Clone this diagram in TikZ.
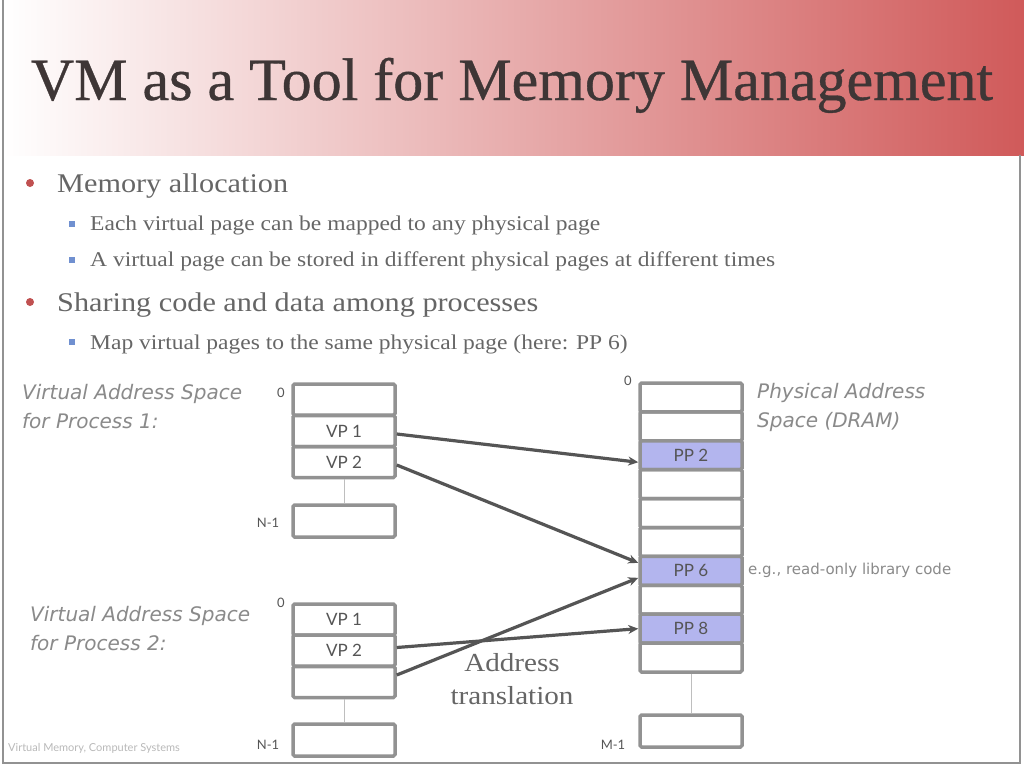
\documentclass[tikz,border=0pt]{standalone}
\usepackage{fontspec}
\setmainfont{Liberation Serif}
\newfontfamily\bodyfont[FakeStretch=1.12]{Liberation Serif}
\newfontfamily\titlefontfam[FakeBold=0.6]{Liberation Serif}
\newfontfamily\labfont{Lato}
\newfontfamily\itfont{DejaVu Sans}
\usetikzlibrary{arrows.meta,calc}
\definecolor{titlec}{HTML}{3E3636}
\definecolor{bodyc}{HTML}{666666}
\definecolor{labc}{HTML}{8A8A8A}
\definecolor{boxc}{HTML}{929292}
\definecolor{arrc}{HTML}{555555}
\definecolor{ppc}{HTML}{B3B5EE}
\definecolor{bannerR}{HTML}{D05A5A}
\definecolor{redbul}{HTML}{C05050}
\definecolor{bluebul}{HTML}{7090D0}
\begin{document}
\begin{tikzpicture}[x=1pt,y=-1pt,
  titlefont/.style={font=\titlefontfam\fontsize{60}{60}\selectfont, text=titlec},
  lvlone/.style={font=\bodyfont\fontsize{27}{27}\selectfont, text=bodyc, anchor=base west, inner sep=0},
  lvltwo/.style={font=\bodyfont\fontsize{21}{21}\selectfont, text=bodyc, anchor=base west, inner sep=0},
  italab/.style={font=\itfont\itshape\fontsize{20}{20}\selectfont, text=labc, anchor=base west, inner sep=0},
  small/.style={font=\labfont\fontsize{13}{13}\selectfont, text=arrc, inner sep=0},
  row/.style={draw=boxc, line width=3.5pt, minimum width=102pt, minimum height=31pt, inner sep=0,
    rounded corners=1.5pt, font=\labfont\fontsize{17}{17}\selectfont, text=arrc},
  prow/.style={row, minimum height=28.9pt},
  pfill/.style={prow, fill=ppc},
  gap/.style={draw=boxc!60, line width=1pt},
  maparrow/.style={draw=arrc, line width=3.2pt, -{Stealth[length=10pt,width=9pt]}}
]
\useasboundingbox (0,0) rectangle (1024,768);
\fill[white] (0,0) rectangle (1024,768);
% banner
\shade[left color=white, right color=bannerR] (3,0) rectangle (1024,155);
\draw[boxc, line width=2pt] (3,0) -- (3,763) -- (1020,763) -- (1020,155);
\node[titlefont, anchor=base] (title) at (512,100) {VM as a Tool for Memory Management};

% bullets
\fill[redbul] (30,183) circle (4);
\node[lvlone] (b1) at (57,192) {Memory allocation};
\fill[bluebul] (69,221) rectangle (75,227);
\node[lvltwo] (b11) at (90,230) {Each virtual page can be mapped to any physical page};
\fill[bluebul] (69,257) rectangle (75,263);
\node[lvltwo] (b12) at (90,266) {A virtual page can be stored in different physical pages at different times};
\fill[redbul] (30,302) circle (4);
\node[lvlone] (b2) at (57,311) {Sharing code and data among processes};
\fill[bluebul] (69,339) rectangle (75,345);
\node[lvltwo] (b21) at (90,349) {Map virtual pages to the same physical page (here: PP 6)};

% process 1
\node[italab] (l1a) at (22,399) {Virtual Address Space};
\node[italab] (l1b) at (22,428) {for Process 1:};
\node[row] (v1a) at (344,399.5) {};
\node[row] (v1b) at (344,431) {VP 1};
\node[row] (v1c) at (344,462) {VP 2};
\node[row, minimum height=32pt] (v1n) at (344,521) {};
\draw[gap] (v1c.south) -- (v1n.north);
\node[small] (z1) at (281,393) {0};
\node[small] (n1) at (268,523) {N-1};

% process 2
\node[italab] (l2a) at (30,621) {Virtual Address Space};
\node[italab] (l2b) at (30,650) {for Process 2:};
\node[row] (v2a) at (344,619.5) {VP 1};
\node[row] (v2b) at (344,650.5) {VP 2};
\node[row] (v2c) at (344,682) {};
\node[row, minimum height=32pt] (v2n) at (344,740) {};
\draw[gap] (v2c.south) -- (v2n.north);
\node[small] (z2) at (281,603) {0};
\node[small] (n2) at (268,745) {N-1};

% physical
\node[prow]  (p0) at (691,397.45) {};
\node[prow]  (p1) at (691,426.35) {};
\node[pfill] (pp2) at (691,455.25) {PP 2};
\node[prow]  (p3) at (691,484.15) {};
\node[prow]  (p4) at (691,513.05) {};
\node[prow]  (p5) at (691,541.95) {};
\node[pfill] (pp6) at (691,570.85) {PP 6};
\node[prow]  (p7) at (691,599.75) {};
\node[pfill] (pp8) at (691,628.65) {PP 8};
\node[prow]  (p9) at (691,657.55) {};
\node[row, minimum height=32pt] (pm) at (691,731) {};
\draw[gap] (p9.south) -- (pm.north);
\node[small] (z3) at (628,381) {0};
\node[small] (m3) at (613,745) {M-1};
\node[italab] (l3a) at (757,398) {Physical Address};
\node[italab] (l3b) at (757,427) {Space (DRAM)};
\node[font=\itfont\fontsize{15}{15}\selectfont, text=labc, anchor=west, inner sep=0] (eg) at (748,570) {e.g., read-only library code};

% mappings
\draw[maparrow] ($(v1b.east)+(0,3)$) -- ($(pp2.west)+(0,7)$);
\draw[maparrow] ($(v1c.east)+(0,3)$) -- ($(pp6.west)+(0,-8)$);
\draw[maparrow] ($(v2b.east)+(0,-3)$) -- (pp8.west);
\draw[maparrow] ($(v2c.east)+(0,-7)$) -- ($(pp6.west)+(0,7)$);

\node[font=\bodyfont\fontsize{26}{26}\selectfont, text=bodyc, align=center] (at) at (512,679) {Address\\[7pt]translation};

% footer
\node[font=\labfont\fontsize{11}{11}\selectfont, text=labc!60, anchor=west, inner sep=0] (foot) at (8,748) {Virtual Memory, Computer Systems};
\end{tikzpicture}
\end{document}
